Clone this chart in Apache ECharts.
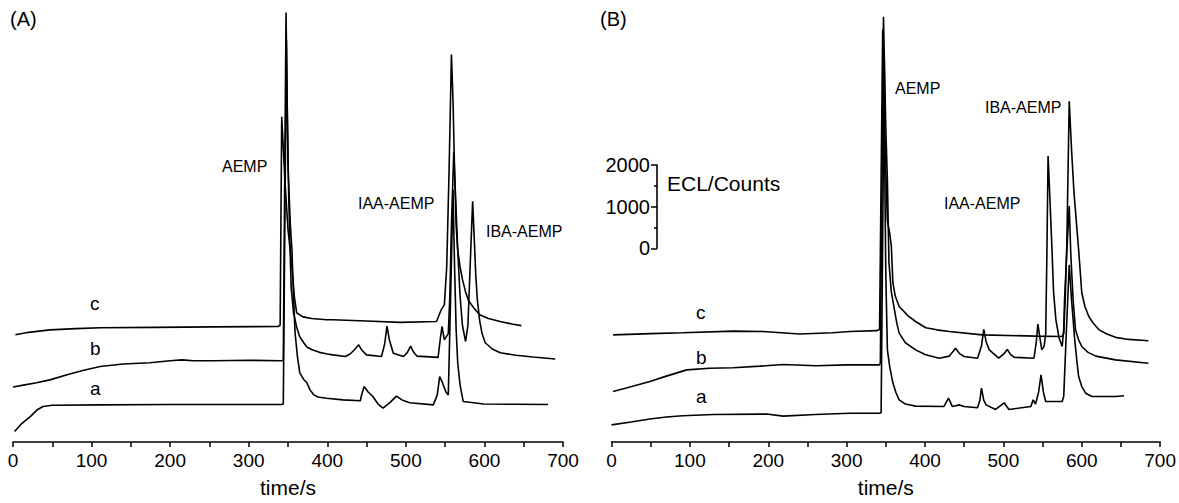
<!DOCTYPE html>
<html>
<head>
<meta charset="utf-8">
<script src="https://cdn.jsdelivr.net/npm/echarts/dist/echarts.min.js"></script>
<style>
html,body{margin:0;padding:0;background:#fff;}
#chart{width:1179px;height:503px;}
</style>
</head>
<body>
<div id="chart"></div>
<script>
// ---- data: [time (s), ECL counts incl. vertical offset] ----
const xTicks = [0, 100, 200, 300, 400, 500, 600, 700];
const scaleTicks = [0, 1000, 2000];

const traceA_c = [[3,2570],[20,2630],[47,2690],[80,2720],[111,2740],[180,2750],[255,2760],[337,2770],[340,2800],[342,7800],[346,6300],[350,5100],[355,4200],[358,3500],[361,3100],[365,3050],[369,3000],[380,2960],[399,2930],[407,2930],[450,2900],[493,2870],[539,2890],[545,3170],[549,3290],[552,4200],[555,6500],[558,9290],[560,8200],[562,6500],[564,5200],[566,4600],[569,4200],[572,3900],[576,3600],[580,3380],[587,3200],[594,3050],[605,2960],[620,2890],[635,2830],[647,2790]];
const traceA_b = [[0,1320],[15,1370],[30,1420],[47,1490],[70,1620],[90,1720],[111,1810],[140,1870],[174,1900],[200,1950],[215,1970],[230,1950],[255,1950],[300,1960],[342,1950],[344,1960],[347.5,10300],[349,8000],[351,5810],[354,3720],[357,3100],[361,2760],[365,2520],[370,2380],[374,2280],[380,2220],[390,2150],[400,2110],[407,2090],[423,2050],[429,2110],[434,2200],[440,2330],[444,2200],[450,2090],[469,2050],[473,2350],[476,2780],[479,2450],[484,2130],[497,2050],[502,2150],[506,2300],[510,2150],[514,2060],[541,2030],[544,2500],[546,2770],[549,2450],[554,2600],[556,3500],[558,5200],[561,6960],[563,6000],[566,4610],[569,3500],[572,2800],[576,2410],[579,2800],[582,4300],[585,5770],[587,4900],[589,4000],[591,3410],[594,2900],[597,2600],[601,2380],[610,2230],[620,2140],[640,2080],[662,2040],[690,1990]];
const traceA_a = [[2,250],[10,420],[22,610],[30,760],[38,850],[50,880],[111,890],[200,900],[342,900],[344,910],[348,9650],[350,6600],[353,5200],[355,4610],[357,3500],[359,2620],[362,2050],[365,1660],[370,1500],[374,1420],[378,1250],[383,1130],[388,1080],[399,1050],[420,1010],[442,990],[444,1150],[447,1330],[452,1200],[458,1090],[465,900],[471,810],[480,950],[488,1100],[495,1010],[505,940],[535,890],[540,1130],[543,1570],[546,1450],[551,1200],[554,1130],[557,3500],[560,6050],[562,4200],[564,2690],[566,1900],[569,1370],[573,970],[599,910],[640,905],[681,900]];

const traceB_c = [[2,2570],[50,2600],[91,2620],[155,2660],[193,2650],[240,2590],[282,2620],[304,2650],[338,2670],[342,2700],[346,9890],[349,7000],[352,5300],[355,5000],[357,4700],[359,3820],[362,3500],[367,3250],[371,3170],[378,3030],[388,2890],[401,2740],[415,2690],[431,2650],[473,2570],[541,2540],[575,2530],[577,2600],[579,3500],[581,4800],[584,8170],[587,7000],[590,6000],[593,5300],[596,4610],[600,3580],[604,3250],[609,3010],[615,2840],[622,2690],[632,2590],[643,2510],[660,2460],[685,2430]];
const traceB_b = [[2,1210],[20,1300],[49,1450],[70,1580],[96,1730],[125,1770],[155,1780],[190,1820],[219,1860],[261,1830],[300,1850],[342,1850],[343,1900],[347,10200],[350,7500],[352,6290],[354,4300],[357,3600],[361,3170],[364,2850],[367,2610],[375,2380],[388,2210],[400,2100],[418,2010],[431,2060],[435,2150],[439,2250],[444,2120],[450,2050],[467,2010],[472,2300],[475,2700],[478,2400],[482,2210],[494,2010],[501,2120],[505,2220],[509,2100],[514,2030],[539,2010],[542,2400],[544,2830],[547,2450],[549,2210],[552,2300],[554,2600],[555.5,4500],[557,6860],[559,6000],[562,4610],[564,3600],[567,2930],[571,2500],[575,2290],[577,2700],[578,3410],[581,4600],[584,5660],[586,4500],[589,3400],[592,2690],[596,2450],[600,2290],[608,2150],[618,2060],[643,1970],[685,1890]];
const traceB_a = [[0,410],[25,480],[49,550],[70,600],[91,630],[130,660],[198,670],[219,620],[260,660],[304,690],[342,690],[344,700],[348,9170],[349,5810],[350,4000],[352,2210],[355,1800],[359,1420],[363,1180],[367,1010],[375,910],[388,860],[424,850],[430,1050],[435,850],[444,890],[450,850],[467,820],[470,1000],[472,1290],[475,1000],[478,890],[490,780],[501,940],[507,780],[535,850],[538,1010],[541,910],[545,1200],[548,1610],[551,1200],[554,970],[575,970],[577,1100],[580,2500],[584,4250],[587,3400],[591,2450],[594,1900],[596,1570],[600,1330],[605,1170],[613,1090],[643,1090],[654,1110]];

const FONT = '"Liberation Sans", Arial, Helvetica, sans-serif';
const BLACK = '#000';

function xAxisFor(gi) {
  return {
    gridIndex: gi, type: 'value', min: xTicks[0], max: xTicks[xTicks.length - 1],
    interval: xTicks[1] - xTicks[0],
    axisLine: { show: true, onZero: false, lineStyle: { color: BLACK, width: 1.6 } },
    axisTick: { show: true, length: 5, lineStyle: { color: BLACK, width: 1.5 } },
    minorTick: { show: true, splitNumber: 2, length: 5, lineStyle: { color: BLACK, width: 1.5 } },
    splitLine: { show: false },
    axisLabel: { color: BLACK, fontSize: 19, fontFamily: FONT, margin: 9 },
    name: 'time/s', nameLocation: 'middle', nameGap: 35,
    nameTextStyle: { color: BLACK, fontSize: 21, fontFamily: FONT }
  };
}
function traceSeries(data, xi) {
  return {
    type: 'line', xAxisIndex: xi, yAxisIndex: xi, data: data,
    showSymbol: false, symbol: 'none', smooth: false, clip: false,
    lineStyle: { color: BLACK, width: 1.6 }, silent: true, animation: false
  };
}
function txt(t, x, y, size) {
  return { type: 'text', x: x, y: y, silent: true,
    style: { text: t, fill: BLACK, font: size + 'px ' + FONT, verticalAlign: 'middle', textVerticalAlign: 'middle' } };
}

const chart = echarts.init(document.getElementById('chart'), null, { renderer: 'svg' });
chart.setOption({
  backgroundColor: '#fff',
  animation: false,
  grid: [
    { left: 13, top: 0, width: 550, height: 442 },
    { left: 611.5, top: 0, width: 550, height: 442 },
    { left: 657, top: 165, width: 10, height: 83.3 }
  ],
  xAxis: [
    xAxisFor(0), xAxisFor(1),
    { gridIndex: 2, type: 'value', show: false, min: 0, max: 1 }
  ],
  yAxis: [
    { gridIndex: 0, type: 'value', min: 0, max: 10600, show: false },
    { gridIndex: 1, type: 'value', min: 0, max: 10600, show: false },
    { gridIndex: 2, type: 'value', min: scaleTicks[0], max: scaleTicks[scaleTicks.length - 1],
      interval: scaleTicks[1] - scaleTicks[0],
      axisLine: { show: true, lineStyle: { color: BLACK, width: 1.6 } },
      axisTick: { show: true, length: 6, lineStyle: { color: BLACK, width: 1.5 } },
      minorTick: { show: true, splitNumber: 2, length: 3, lineStyle: { color: BLACK, width: 1.5 } },
      splitLine: { show: false },
      axisLabel: { color: BLACK, fontSize: 20, fontFamily: FONT, margin: 7, formatter: function (v) { return String(v); } } }
  ],
  series: [
    traceSeries(traceA_a, 0), traceSeries(traceA_b, 0), traceSeries(traceA_c, 0),
    traceSeries(traceB_a, 1), traceSeries(traceB_b, 1), traceSeries(traceB_c, 1)
  ],
  graphic: [
    txt('(A)', 10, 19, 20),
    txt('(B)', 600, 19, 20),
    txt('AEMP', 222, 166, 16),
    txt('IAA-AEMP', 358, 203, 16),
    txt('IBA-AEMP', 486, 231, 16),
    txt('c', 90, 303, 19),
    txt('b', 90, 348, 19),
    txt('a', 90, 388, 19),
    txt('AEMP', 895, 88, 16),
    txt('IBA-AEMP', 985, 107, 16),
    txt('IAA-AEMP', 944, 203, 16),
    txt('c', 696, 312, 19),
    txt('b', 696, 357, 19),
    txt('a', 696, 396, 19),
    txt('ECL/Counts', 667, 183, 21)
  ]
});
</script>
</body>
</html>
